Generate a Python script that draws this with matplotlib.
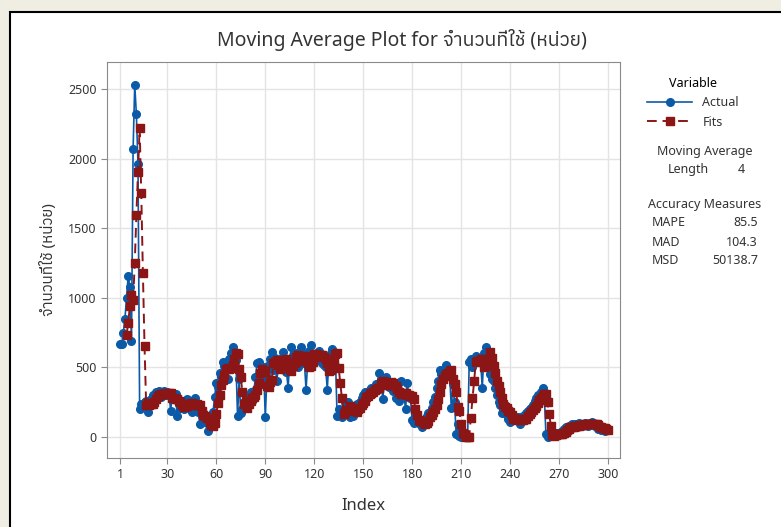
import numpy as np
import matplotlib
matplotlib.use("Agg")
import matplotlib.pyplot as plt
from matplotlib import font_manager, ft2font
from matplotlib.patches import Rectangle

# values (index 1..300)
actual = [665, 670, 750, 850, 1000, 1160, 1080, 690, 2070, 2530,
          2320, 1960, 200, 240, 220, 250, 260, 180, 250, 270,
          300, 280, 320, 300, 330, 290, 310, 330, 300, 320,
          310, 190, 300, 290, 310, 150, 240, 210, 260, 200,
          230, 270, 260, 220, 180, 260, 280, 200, 180, 90,
          150, 170, 130, 100, 40, 70, 120, 180, 290, 390,
          360, 460, 430, 540, 510, 490, 420, 560, 600, 650,
          590, 550, 150, 420, 170, 200, 250, 220, 280, 290,
          320, 260, 330, 430, 530, 540, 450, 380, 500, 140,
          430, 520, 560, 610, 480, 570, 400, 500, 560, 540,
          610, 520, 470, 350, 560, 650, 580, 520, 600, 500,
          560, 650, 600, 530, 340, 540, 620, 660, 560, 540,
          590, 600, 620, 560, 530, 520, 500, 340, 550, 600,
          630, 610, 580, 150, 200, 180, 140, 200, 250, 180,
          250, 140, 200, 150, 220, 240, 210, 250, 280, 300,
          320, 290, 320, 340, 350, 330, 360, 380, 350, 460,
          420, 270, 400, 430, 380, 360, 390, 330, 390, 280,
          300, 260, 400, 310, 300, 200, 390, 300, 280, 120,
          100, 140, 120, 110, 90, 70, 110, 130, 150, 170,
          180, 210, 250, 290, 350, 400, 480, 450, 420, 460,
          520, 490, 450, 210, 380, 250, 20, 90, 10, 0,
          0, 0, 10, 0, 540, 560, 500, 550, 580, 560,
          560, 540, 350, 600, 650, 600, 580, 450, 420, 400,
          350, 300, 250, 230, 170, 200, 230, 160, 130, 110,
          130, 140, 120, 130, 140, 90, 130, 150, 160, 170,
          190, 200, 210, 230, 260, 280, 300, 270, 320, 350,
          300, 20, 0, 10, 20, 10, 20, 30, 20, 30,
          20, 40, 60, 70, 70, 80, 60, 90, 80, 90,
          70, 100, 90, 80, 90, 100, 90, 80, 100, 110,
          90, 80, 70, 60, 80, 50, 60, 40, 60, 50]

# fits start at index 5
fits = [734, 818, 940, 1022, 982, 1250, 1592, 1902, 2220, 1752,
        1180, 655, 228, 242, 228, 235, 240, 250, 275, 292,
        300, 308, 310, 308, 315, 308, 315, 315, 280, 280,
        272, 272, 262, 248, 228, 215, 228, 225, 240, 240,
        245, 232, 230, 235, 230, 230, 188, 155, 148, 135,
        138, 110, 85, 82, 102, 165, 245, 305, 375, 410,
        448, 485, 492, 490, 495, 518, 558, 600, 598, 485,
        428, 322, 235, 260, 210, 238, 260, 278, 288, 300,
        335, 388, 458, 488, 475, 468, 368, 362, 398, 412,
        530, 542, 555, 515, 488, 508, 500, 552, 558, 535,
        488, 475, 508, 535, 578, 588, 550, 545, 578, 578,
        585, 530, 502, 508, 540, 595, 595, 588, 572, 588,
        592, 578, 558, 528, 472, 478, 498, 530, 598, 605,
        492, 385, 278, 168, 180, 192, 192, 220, 205, 192,
        185, 178, 202, 205, 230, 245, 260, 288, 298, 308,
        318, 325, 335, 345, 355, 355, 388, 402, 375, 388,
        380, 370, 392, 390, 365, 368, 348, 325, 308, 310,
        318, 318, 302, 300, 298, 292, 272, 200, 160, 120,
        118, 115, 98, 95, 100, 115, 140, 158, 178, 202,
        232, 275, 322, 380, 420, 438, 452, 462, 472, 480,
        418, 382, 322, 215, 185, 92, 30, 25, 2, 2,
        2, 138, 278, 400, 538, 548, 548, 562, 560, 502,
        512, 535, 550, 608, 570, 512, 462, 405, 368, 325,
        282, 238, 212, 208, 190, 180, 158, 132, 128, 125,
        130, 132, 120, 122, 128, 132, 152, 168, 180, 192,
        208, 225, 245, 268, 278, 292, 310, 310, 248, 168,
        82, 12, 10, 15, 20, 20, 25, 25, 28, 38,
        48, 60, 70, 70, 75, 78, 80, 82, 85, 88,
        85, 90, 90, 90, 90, 92, 95, 95, 95, 88,
        75, 72, 65, 62, 58, 52]

xticks = [1, 30, 60, 90, 120, 150, 180, 210, 240, 270, 300]
yticks = [0, 500, 1000, 1500, 2000, 2500]
measures = [("MAPE", "85.5"), ("MAD", "104.3"), ("MSD", "50138.7")]

# find an installed font that has Thai glyphs
thai = []
for f in font_manager.fontManager.ttflist:
    try:
        if ft2font.FT2Font(f.fname).get_char_index(ord("จ")):
            thai.append(f.name)
    except Exception:
        pass
fam = ["Noto Sans"] + sorted(set(thai))[:1] + ["DejaVu Sans"]
plt.rcParams["font.family"] = fam

blue = "#0b5aa8"
red = "#8c1515"
txt = "#333333"

fig = plt.figure(figsize=(7.81, 5.27), dpi=100)
fig.patch.set_facecolor("#f0eee2")
fig.patches.append(Rectangle((10 / 781, -0.01), 1, (527 - 12) / 527 + 0.01,
                             transform=fig.transFigure, facecolor="white",
                             edgecolor="black", lw=1.5, zorder=-5))

ax = fig.add_axes([107 / 781, (527 - 458) / 527, 513 / 781, 396 / 527])
ax.set_zorder(2)
x1 = np.arange(1, len(actual) + 1)
x2 = np.arange(5, 5 + len(fits))
l1, = ax.plot(x1, actual, "-o", color=blue, lw=1.2, ms=5.5, zorder=3)
l2, = ax.plot(x2, fits, "--s", color=red, lw=1.4, ms=5.5, dashes=(5, 3), zorder=4)

ax.set_xlim(-7, 307.4)
ax.set_ylim(-151, 2694)
ax.set_xticks(xticks)
ax.set_yticks(yticks)
ax.grid(True, color="#e4e4e4", lw=1)
ax.set_axisbelow(True)
for s in ax.spines.values():
    s.set_color("#8a8a8a")
ax.tick_params(colors="#8a8a8a", labelcolor=txt, labelsize=9, length=4)
ax.set_xlabel("Index", fontsize=12, color=txt, labelpad=12)
ax.set_ylabel("จำนวนที่ใช้ (หน่วย)", fontsize=11, color=txt, labelpad=8)

fig.text(402 / 781, 1 - 40 / 527, "Moving Average Plot for จำนวนที่ใช้ (หน่วย)",
         ha="center", va="center", fontsize=14, color=txt)

fig.legend([l1, l2], ["Actual", "Fits"], title="Variable", frameon=False,
           loc="upper left", bbox_to_anchor=(636 / 781, 1 - 66 / 527),
           fontsize=9, title_fontsize=9, handlelength=3.6, labelcolor=txt)

fig.text(705 / 781, 1 - 151 / 527, "Moving Average", ha="center", va="center", fontsize=9, color=txt)
fig.text(668 / 781, 1 - 170 / 527, "Length", ha="left", va="center", fontsize=9, color=txt)
fig.text(738 / 781, 1 - 170 / 527, "4", ha="left", va="center", fontsize=9, color=txt)
fig.text(705 / 781, 1 - 205 / 527, "Accuracy Measures", ha="center", va="center", fontsize=9, color=txt)
for i, (k, v) in enumerate(measures):
    yy = 1 - (223 + i * 19) / 527
    fig.text(652 / 781, yy, k, ha="left", va="center", fontsize=9, color=txt)
    fig.text(758 / 781, yy, v, ha="right", va="center", fontsize=9, color=txt)

fig.savefig("out.png", dpi=100, facecolor=fig.get_facecolor())
